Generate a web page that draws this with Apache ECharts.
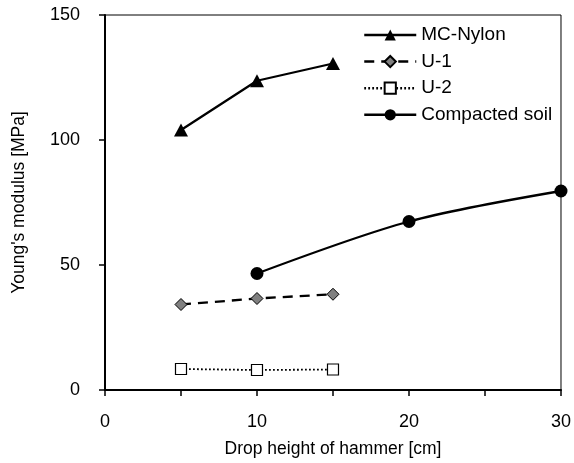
<!DOCTYPE html>
<html>
<head>
<meta charset="utf-8">
<script src="https://cdn.jsdelivr.net/npm/echarts@6/dist/echarts.min.js"></script>
<style>
  html, body { margin: 0; padding: 0; background: #fff; }
  #chart { width: 574px; height: 463px; }
</style>
</head>
<body>
<div id="chart"></div>
<script>
// Drop height of hammer [cm] vs. Young's modulus [MPa]
const seriesNames = ['MC-Nylon', 'U-1', 'U-2', 'Compacted soil'];
const heightsShort = [5, 10, 15];
const heightsSoil = [10, 20, 30];
const mcNylon = [104.0, 123.7, 130.6];
const u1 = [34.2, 36.6, 38.3];
const u2 = [8.4, 8.0, 8.2];
const compactedSoil = [46.6, 67.4, 79.6];
const xTicks = [0, 10, 20, 30];
const yTicks = [0, 50, 100, 150];

const FONT = '"Liberation Sans", Arial, sans-serif';

// line look of each series, shared by the plot and the legend
const lineStyles = [
  { color: '#000', width: 2.3, type: 'solid' },
  { color: '#000', width: 2.3, type: [10, 7] },
  { color: '#000', width: 1.8, type: [1.8, 2.2] },
  { color: '#000', width: 2.3, type: 'solid' }
];

function pairs(xs, ys) {
  return xs.map((x, i) => [x, ys[i]]);
}

const chart = echarts.init(document.getElementById('chart'), null, { renderer: 'canvas' });

chart.setOption({
  animation: false,
  backgroundColor: '#fff',
  textStyle: { fontFamily: FONT, color: '#000' },
  grid: {
    left: 105, right: 11, top: 15, bottom: 73,
    show: true, borderColor: '#000', borderWidth: 1, backgroundColor: 'transparent'
  },
  legend: {
    orient: 'vertical',
    left: 358, top: 20,
    itemWidth: 52, itemHeight: 14, itemGap: 6.6,
    lineStyle: { width: 2.5 },
    textStyle: { fontFamily: FONT, fontSize: 19, color: '#000', lineHeight: 20 },
    data: seriesNames
  },
  xAxis: {
    type: 'value',
    min: 0, max: xTicks[xTicks.length - 1], interval: 5,
    name: 'Drop height of hammer [cm]',
    nameLocation: 'middle', nameGap: 50,
    nameTextStyle: { fontFamily: FONT, fontSize: 17.5, color: '#000' },
    axisLine: { lineStyle: { color: '#000', width: 2 } },
    axisTick: { show: true, length: 6, inside: false, lineStyle: { color: '#000', width: 1.5 } },
    axisLabel: {
      margin: 23, fontFamily: FONT, fontSize: 18, color: '#000',
      formatter: v => (xTicks.indexOf(v) >= 0 ? String(v) : '')
    },
    splitLine: { show: false }
  },
  yAxis: {
    type: 'value',
    min: 0, max: yTicks[yTicks.length - 1], interval: 50,
    name: "Young's modulus [MPa]",
    nameLocation: 'middle', nameGap: 77,
    nameTextStyle: { fontFamily: FONT, fontSize: 17.5, color: '#000' },
    axisLine: { show: true, lineStyle: { color: '#000', width: 2 } },
    axisTick: { show: true, length: 6, inside: false, lineStyle: { color: '#000', width: 1.5 } },
    axisLabel: {
      margin: 25, fontFamily: FONT, fontSize: 18, color: '#000',
      formatter: v => (yTicks.indexOf(v) >= 0 ? String(v) : '')
    },
    splitLine: { show: false }
  },
  series: [
    {
      name: seriesNames[0], type: 'line',
      data: pairs(heightsShort, mcNylon),
      symbol: 'triangle', symbolSize: [14, 13],
      itemStyle: { color: '#000', borderColor: '#000', borderWidth: 0 },
      lineStyle: lineStyles[0]
    },
    {
      name: seriesNames[1], type: 'line',
      data: pairs(heightsShort, u1),
      symbol: 'diamond', symbolSize: 12,
      itemStyle: { color: '#808080', borderColor: '#000', borderWidth: 1 },
      lineStyle: lineStyles[1]
    },
    {
      name: seriesNames[2], type: 'line',
      data: pairs(heightsShort, u2),
      symbol: 'rect', symbolSize: 11,
      itemStyle: { color: '#fff', borderColor: '#000', borderWidth: 1.2 },
      lineStyle: lineStyles[2]
    },
    {
      name: seriesNames[3], type: 'line',
      data: pairs(heightsSoil, compactedSoil),
      smooth: 0.3,
      symbol: 'circle', symbolSize: 13,
      itemStyle: { color: '#000', borderColor: '#000', borderWidth: 0 },
      lineStyle: lineStyles[3]
    }
  ]
});
</script>
</body>
</html>
